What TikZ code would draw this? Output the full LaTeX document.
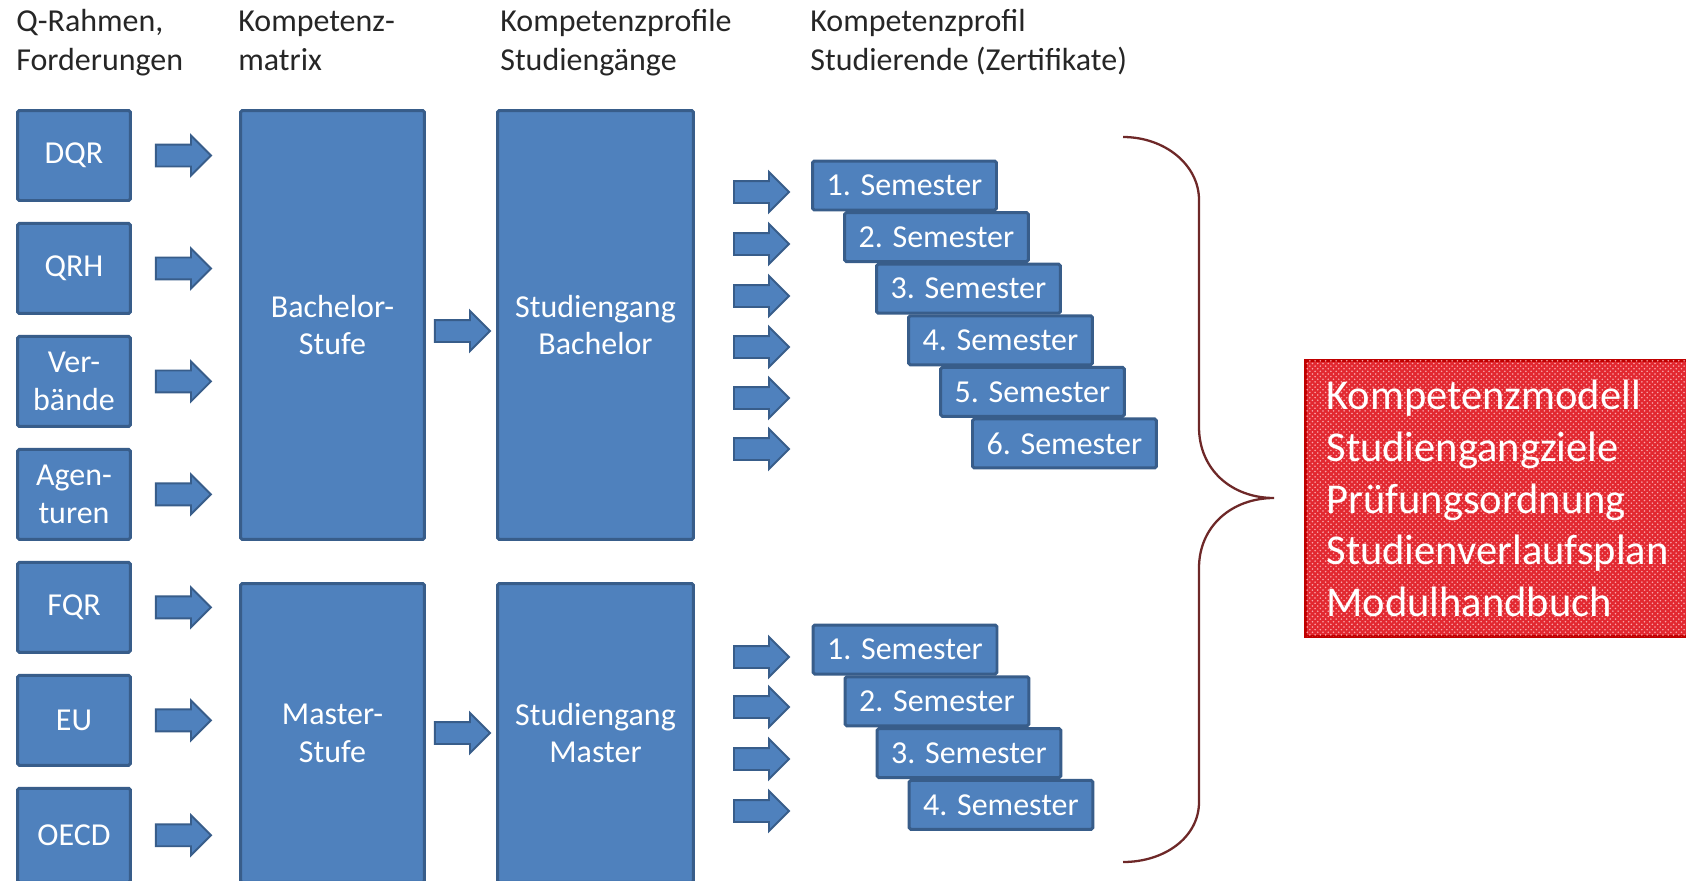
\documentclass[tikz,border=0pt]{standalone}
\usepackage{fontspec}
\setmainfont{Carlito}
\usepackage{xcolor}
\usepackage{tikz}
\usetikzlibrary{positioning, shapes.arrows, patterns}

\definecolor{boxblue}{RGB}{79,129,189}
\definecolor{boxedge}{RGB}{56,93,138}
\definecolor{modelred}{RGB}{226,40,48}
\definecolor{modeldots}{RGB}{250,165,170}
\definecolor{modeledge}{RGB}{192,0,0}
\definecolor{bracebrown}{RGB}{110,40,40}

\begin{document}
\begin{tikzpicture}[x=0.02cm, y=-0.02cm,
    blk/.style={draw=boxedge, fill=boxblue, line width=1.7pt, rounded corners=1pt,
                text=white, align=center, inner sep=0pt,
                font=\fontsize{18.2pt}{21.6pt}\selectfont},
    src/.style={blk, minimum width=2.26cm, minimum height=1.8cm},
    level/.style={blk, minimum width=3.68cm, minimum height=8.58cm},
    prog/.style={blk, minimum width=3.92cm, minimum height=8.58cm},
    sem/.style={blk, minimum width=3.68cm, minimum height=0.98cm},
    blkarr/.style={single arrow, draw=boxedge, fill=boxblue, line width=1.1pt,
                   single arrow head extend=0.18cm, single arrow tip angle=90,
                   minimum height=1.1cm, minimum width=0pt,
                   inner xsep=0pt, inner ysep=0.2cm},
    head/.style={anchor=base west, align=left, inner sep=0pt, text=black!85,
                 font=\fontsize{18.2pt}{22.2pt}\selectfont}
]
\useasboundingbox (0,0) rectangle (1686,880);
\clip (0,0) rectangle (1686,880);
\fill[white] (0,0) rectangle (1686,880);

% Spaltenköpfe
\node[head] (hq) at (16,70)  {Q-Rahmen,\\Forderungen};
\node[head] (hk) at (238,70) {Kompetenz-\\matrix};
\node[head] (hp) at (500,70) {Kompetenzprofile\\Studiengänge};
\node[head] (hs) at (810,70) {Kompetenzprofil\\Studierende (Zertifikate)};

% Rahmen und Forderungen
\node[src] (DQR) at (74,155.5) {DQR};
\node[src, below=0.4cm of DQR] (QRH) {QRH};
\node[src, below=0.4cm of QRH] (VB)  {Ver-\\bände};
\node[src, below=0.4cm of VB]  (AG)  {Agen-\\turen};
\node[src, below=0.4cm of AG]  (FQR) {FQR};
\node[src, below=0.4cm of FQR] (EU)  {EU};
\node[src, below=0.4cm of EU, minimum height=1.88cm] (OECD){OECD};

\node[blkarr, right=0.46cm of DQR]  (aDQR) {};
\node[blkarr, right=0.46cm of QRH]  (aQRH) {};
\node[blkarr, right=0.46cm of VB]   (aVB)  {};
\node[blkarr, right=0.46cm of AG]   (aAG)  {};
\node[blkarr, right=0.46cm of FQR]  (aFQR) {};
\node[blkarr, right=0.46cm of EU]   (aEU)  {};
\node[blkarr, right=0.46cm of OECD] (aOECD){};

% Kompetenzmatrix und Studiengänge
\node[level] (KB) at (332.5,325) {Bachelor-\\Stufe};
\node[level, minimum height=5.98cm] (KM) at (332.5,733) {Master-\\Stufe};
\node[prog] (SB) at (595.5,325) {Studiengang\\Bachelor};
\node[prog, minimum height=5.98cm] (SM) at (595.5,733) {Studiengang\\Master};

\node[blkarr, right=0.16cm of KB, yshift=-0.12cm] (aKB) {};
\node[blkarr, right=0.16cm of KM] (aKM) {};

% Semester Bachelor
\node[sem] (B1) at (904.5,185.5) {1. Semester};
\node[sem, xshift=0.64cm, yshift=-1.032cm] (B2) at (B1) {2. Semester};
\node[sem, xshift=0.64cm, yshift=-1.032cm] (B3) at (B2) {3. Semester};
\node[sem, xshift=0.64cm, yshift=-1.032cm] (B4) at (B3) {4. Semester};
\node[sem, xshift=0.64cm, yshift=-1.032cm] (B5) at (B4) {5. Semester};
\node[sem, xshift=0.64cm, yshift=-1.032cm] (B6) at (B5) {6. Semester};

\node[blkarr] (aB1) at (756,192) {};
\node[blkarr] (aB2) at (756,244) {};
\node[blkarr] (aB3) at (756,296) {};
\node[blkarr] (aB4) at (756,347) {};
\node[blkarr] (aB5) at (756,398) {};
\node[blkarr] (aB6) at (756,449) {};

% Semester Master
\node[sem] (M1) at (905,649.5) {1. Semester};
\node[sem, xshift=0.64cm, yshift=-1.036cm] (M2) at (M1) {2. Semester};
\node[sem, xshift=0.64cm, yshift=-1.036cm] (M3) at (M2) {3. Semester};
\node[sem, xshift=0.64cm, yshift=-1.036cm] (M4) at (M3) {4. Semester};

\node[blkarr] (aM1) at (756,657) {};
\node[blkarr] (aM2) at (756,707) {};
\node[blkarr] (aM3) at (756,759) {};
\node[blkarr] (aM4) at (756,811) {};

% Klammer
\draw[bracebrown, line width=1.3pt]
  (1123,137) .. controls (1165,137) and (1199,165) .. (1199,200)
  -- (1199,427) .. controls (1199,470) and (1232,498) .. (1274,498)
  .. controls (1232,498) and (1199,526) .. (1199,568)
  -- (1199,802) .. controls (1199,837) and (1165,862) .. (1123,862);

% Ergebnis
\node[draw=modeledge, line width=1.7pt, fill=modelred,
      postaction={pattern=crosshatch dots, pattern color=modeldots},
      anchor=west, text width=7.56cm, inner xsep=0.42cm, minimum height=5.52cm,
      align=left, text=white, font=\fontsize{24.2pt}{29.4pt}\selectfont]
  (model) at (1304,498.5)
  {Kompetenzmodell\\Studiengangziele\\Prüfungsordnung\\Studienverlaufsplan\\Modulhandbuch};
\end{tikzpicture}
\end{document}
